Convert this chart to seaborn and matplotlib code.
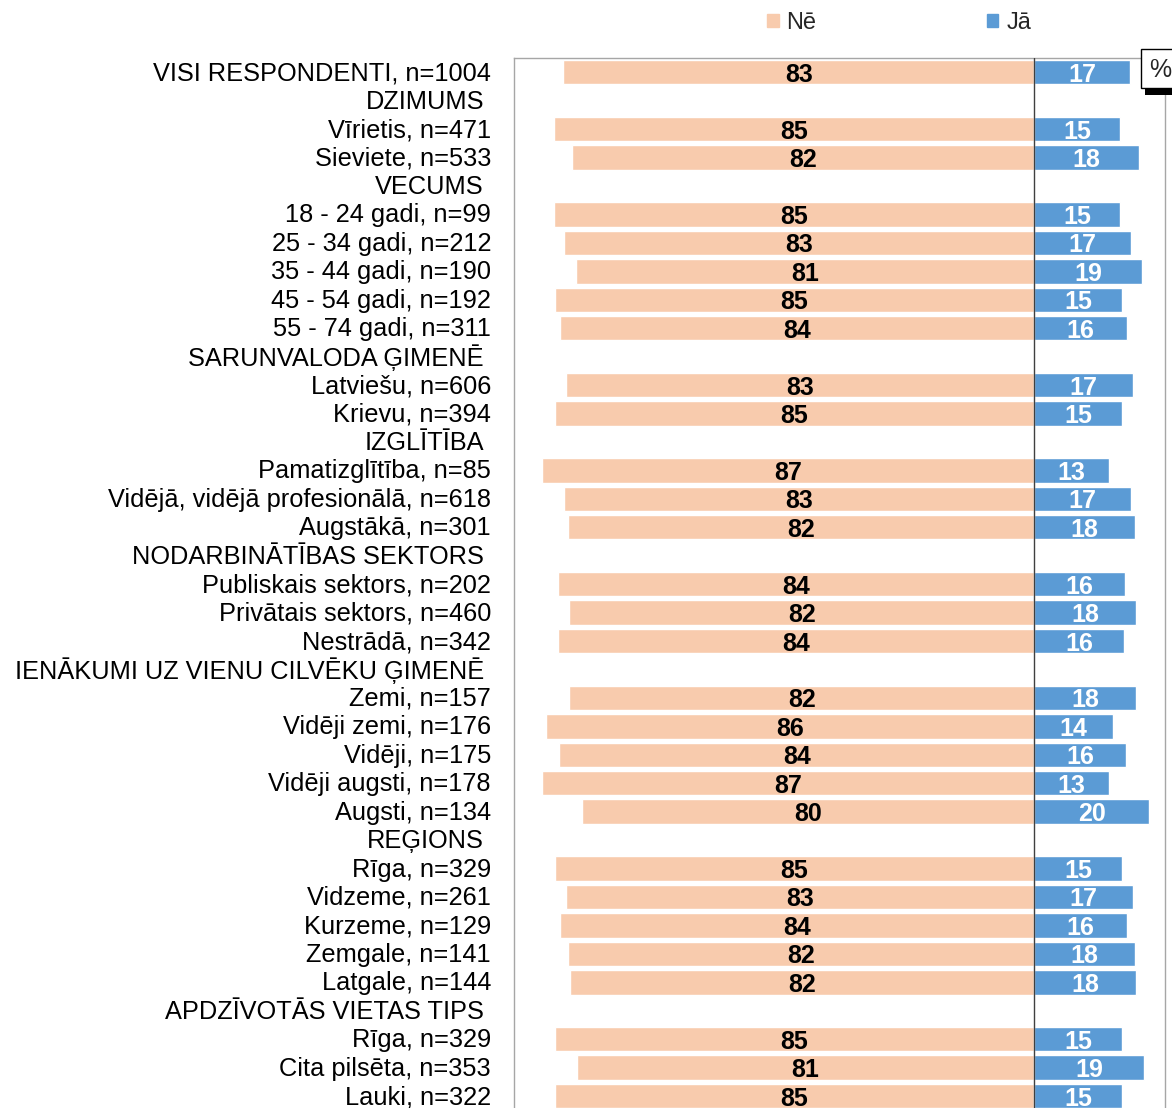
import numpy as np
import pandas as pd
import matplotlib
matplotlib.use('Agg')
import matplotlib.pyplot as plt
import matplotlib.patches as mpatches
from matplotlib.transforms import blended_transform_factory, offset_copy
import seaborn as sns

# Dati
labels = [
    'VISI RESPONDENTI, n=1004',
    'DZIMUMS',
    'Vīrietis, n=471',
    'Sieviete, n=533',
    'VECUMS',
    '18 - 24 gadi, n=99',
    '25 - 34 gadi, n=212',
    '35 - 44 gadi, n=190',
    '45 - 54 gadi, n=192',
    '55 - 74 gadi, n=311',
    'SARUNVALODA ĢIMENĒ',
    'Latviešu, n=606',
    'Krievu, n=394',
    'IZGLĪTĪBA',
    'Pamatizglītība, n=85',
    'Vidējā, vidējā profesionālā, n=618',
    'Augstākā, n=301',
    'NODARBINĀTĪBAS SEKTORS',
    'Publiskais sektors, n=202',
    'Privātais sektors, n=460',
    'Nestrādā, n=342',
    'IENĀKUMI UZ VIENU CILVĒKU ĢIMENĒ',
    'Zemi, n=157',
    'Vidēji zemi, n=176',
    'Vidēji, n=175',
    'Vidēji augsti, n=178',
    'Augsti, n=134',
    'REĢIONS',
    'Rīga, n=329',
    'Vidzeme, n=261',
    'Kurzeme, n=129',
    'Zemgale, n=141',
    'Latgale, n=144',
    'APDZĪVOTĀS VIETAS TIPS',
    'Rīga, n=329',
    'Cita pilsēta, n=353',
    'Lauki, n=322',
]
headers = ['DZIMUMS', 'VECUMS', 'SARUNVALODA ĢIMENĒ', 'IZGLĪTĪBA',
           'NODARBINĀTĪBAS SEKTORS', 'IENĀKUMI UZ VIENU CILVĒKU ĢIMENĒ',
           'REĢIONS', 'APDZĪVOTĀS VIETAS TIPS']

ne_vals = [83.1, 84.8, 81.6, 84.8, 82.9, 80.9, 84.6, 83.6, 82.6, 84.6,
           86.9, 83.0, 82.2, 84.0, 82.1, 84.1, 82.1, 86.2, 83.8, 86.9,
           79.8, 84.6, 82.6, 83.6, 82.2, 82.0, 84.6, 80.7, 84.6]
ja_vals = [16.9, 15.2, 18.4, 15.2, 17.1, 19.0, 15.4, 16.4, 17.4, 15.4,
           13.1, 17.0, 17.8, 16.0, 17.9, 15.9, 17.9, 13.8, 16.2, 13.1,
           20.2, 15.4, 17.4, 16.4, 17.8, 18.0, 15.4, 19.3, 15.4]
legend_names = ['Nē', 'Jā']

NE_COLOR = '#F8CBAD'
JA_COLOR = '#5B9BD5'

sns.set_style('white')
plt.rcParams['font.family'] = ['Liberation Sans', 'DejaVu Sans']

data_pos = [i for i, lab in enumerate(labels) if lab not in headers]
df = pd.DataFrame({'pos': data_pos, 'ne': -np.array(ne_vals), 'ja': ja_vals})

W, H = 1172, 1108
fig = plt.figure(figsize=(W / 100, H / 100), dpi=100)
ax_w = 651
ax = fig.add_axes([514 / W, 1 - 1110.3 / H, ax_w / W, 1052.3 / H])

sns.barplot(data=df, x='ne', y='pos', orient='h', native_scale=True,
            color=NE_COLOR, saturation=1, width=0.86, errorbar=None, ax=ax)
sns.barplot(data=df, x='ja', y='pos', orient='h', native_scale=True,
            color=JA_COLOR, saturation=1, width=0.86, errorbar=None, ax=ax)

ax.set_xlim(-91.8, 23.06)
ax.set_ylim(36.5, -0.5)
ax.set_xticks([])
ax.set_yticks([])
ax.set_xlabel('')
ax.set_ylabel('')
ax.axvline(0, color='#404040', lw=1, zorder=3)
for side in ['left', 'top', 'right']:
    ax.spines[side].set_color('#A6A6A6')
    ax.spines[side].set_linewidth(1)
ax.spines['bottom'].set_visible(False)

# Vērtības uz stabiņiem
val_trans = offset_copy(ax.transData, fig=fig, x=0, y=-2.5, units='dots')
for p, n, j in zip(df['pos'], ne_vals, ja_vals):
    ax.text(-n / 2, p, f'{n:.0f}', transform=val_trans, ha='center', va='center',
            fontsize=18, fontweight='bold', color='black', zorder=4)
    ax.text(j / 2, p, f'{j:.0f}', transform=val_trans, ha='center', va='center',
            fontsize=18, fontweight='bold', color='white', zorder=4)

# Kategoriju nosaukumi
trans = offset_copy(blended_transform_factory(ax.transAxes, ax.transData),
                    fig=fig, x=0, y=-1, units='dots')
for i, lab in enumerate(labels):
    off = 30 if lab in headers else 23
    ax.text(-off / ax_w, i, lab, transform=trans, ha='right', va='center',
            fontsize=18.3, color='black')

# Leģenda
handles = [mpatches.Patch(color=NE_COLOR), mpatches.Patch(color=JA_COLOR)]
fig.legend(handles, legend_names, loc='center left',
           bbox_to_anchor=(767 / W, 1 - 23 / H), ncol=2, frameon=False,
           fontsize=17, handlelength=0.5, handleheight=0.5,
           handletextpad=0.33, columnspacing=7.2, borderpad=0, borderaxespad=0)

# % lodziņš
fig.add_artist(mpatches.Rectangle((1145 / W, 1 - 95 / H), 40 / W, 42 / H,
                                  transform=fig.transFigure, fc='black', ec='none', zorder=5))
fig.add_artist(mpatches.Rectangle((1140.7 / W, 1 - 87.5 / H), 40 / W, 38.5 / H,
                                  transform=fig.transFigure, fc='white', ec='black',
                                  lw=1, zorder=6))
fig.text(1149.3 / W, 1 - 70 / H, '%', ha='left', va='center', fontsize=18, zorder=7)

fig.savefig('out.png', dpi=100)
